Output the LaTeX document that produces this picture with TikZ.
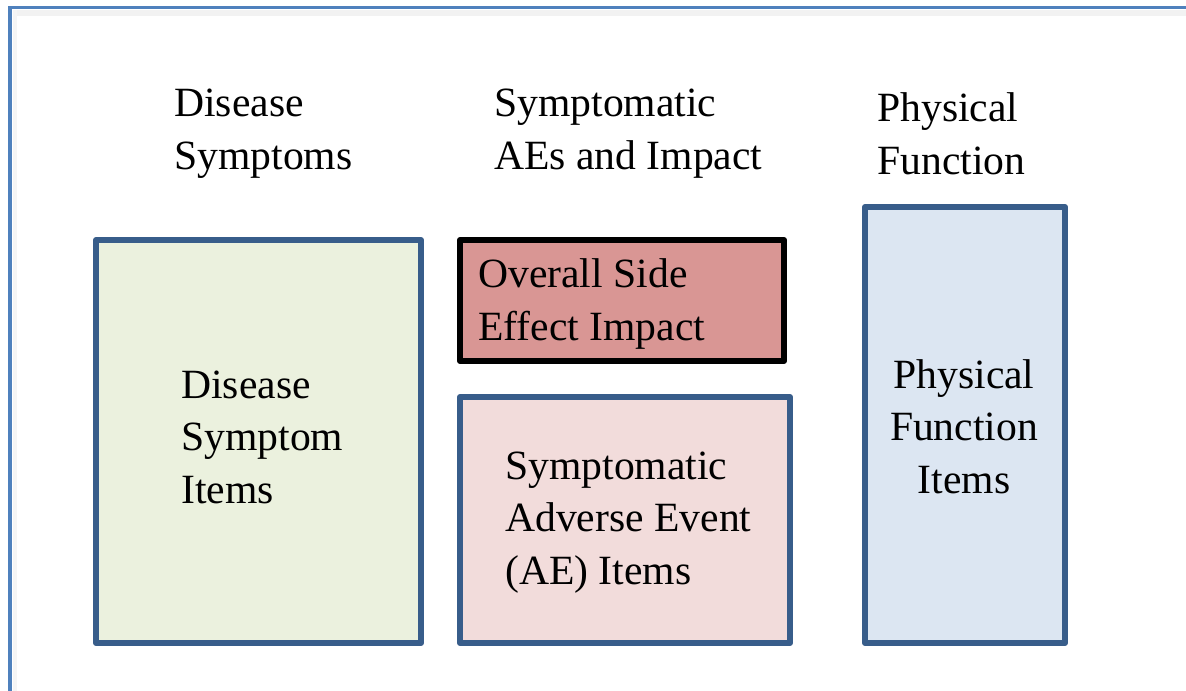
\documentclass[tikz,border=0pt]{standalone}
\usepackage{fontspec}
\setmainfont{Liberation Serif}
\definecolor{framecol}{HTML}{4F81BD}
\definecolor{edgecol}{HTML}{385D8A}
\definecolor{greenfill}{HTML}{EBF1DE}
\definecolor{redfill}{HTML}{D99694}
\definecolor{pinkfill}{HTML}{F2DCDB}
\definecolor{bluefill}{HTML}{DCE6F2}
\begin{document}
\begin{tikzpicture}[x=0.025cm,y=-0.025cm,
    itembox/.style ={rectangle, draw=edgecol, line width=0.15cm, line join=round, inner sep=0pt},
    caption/.style ={inner sep=0pt, anchor=base west, align=left,
      font=\fontsize{29.6pt}{37pt}\selectfont}]
   \useasboundingbox (0,0) rectangle (1186,691);
   % frame
   \draw[gray!10, line width=0.15cm] (13,13) -- (1186,13);
   \draw[gray!8, line width=0.1cm] (15,10) -- (15,691);
   \draw[framecol, line width=0.075cm] (10,691) -- (10,7) -- (1186,7);
   % boxes
   \node[itembox, fill=greenfill, minimum width=8.125cm, minimum height=10.075cm] (disbox) at (258.5,441.5) {};
   \node[itembox, draw=black, fill=redfill, minimum width=8.1cm, minimum height=3.025cm] (sidebox) at (622,300.5) {};
   \node[itembox, fill=pinkfill, minimum width=8.25cm, minimum height=6.15cm] (aebox) at (625,520) {};
   \node[itembox, fill=bluefill, minimum width=5cm, minimum height=10.9cm] (physbox) at (965,425) {};
   % headings (anchored at the last line)
   \node[caption] (dishead) at (174,169) {Disease\\Symptoms};
   \node[caption] (aehead) at (494,169) {Symptomatic\\AEs and Impact};
   \node[caption] (physhead) at (877,174) {Physical\\Function};
   % box texts
   \node[caption] (distext) at (181,503) {Disease\\Symptom\\Items};
   \node[caption] (sidetext) at (478,340) {Overall Side\\Effect Impact};
   \node[caption] (aetext) at (505,584) {Symptomatic\\Adverse Event\\(AE) Items};
   \node[caption, anchor=base, align=center] (phystext) at (964,493) {Physical\\Function\\Items};
\end{tikzpicture}
\end{document}
